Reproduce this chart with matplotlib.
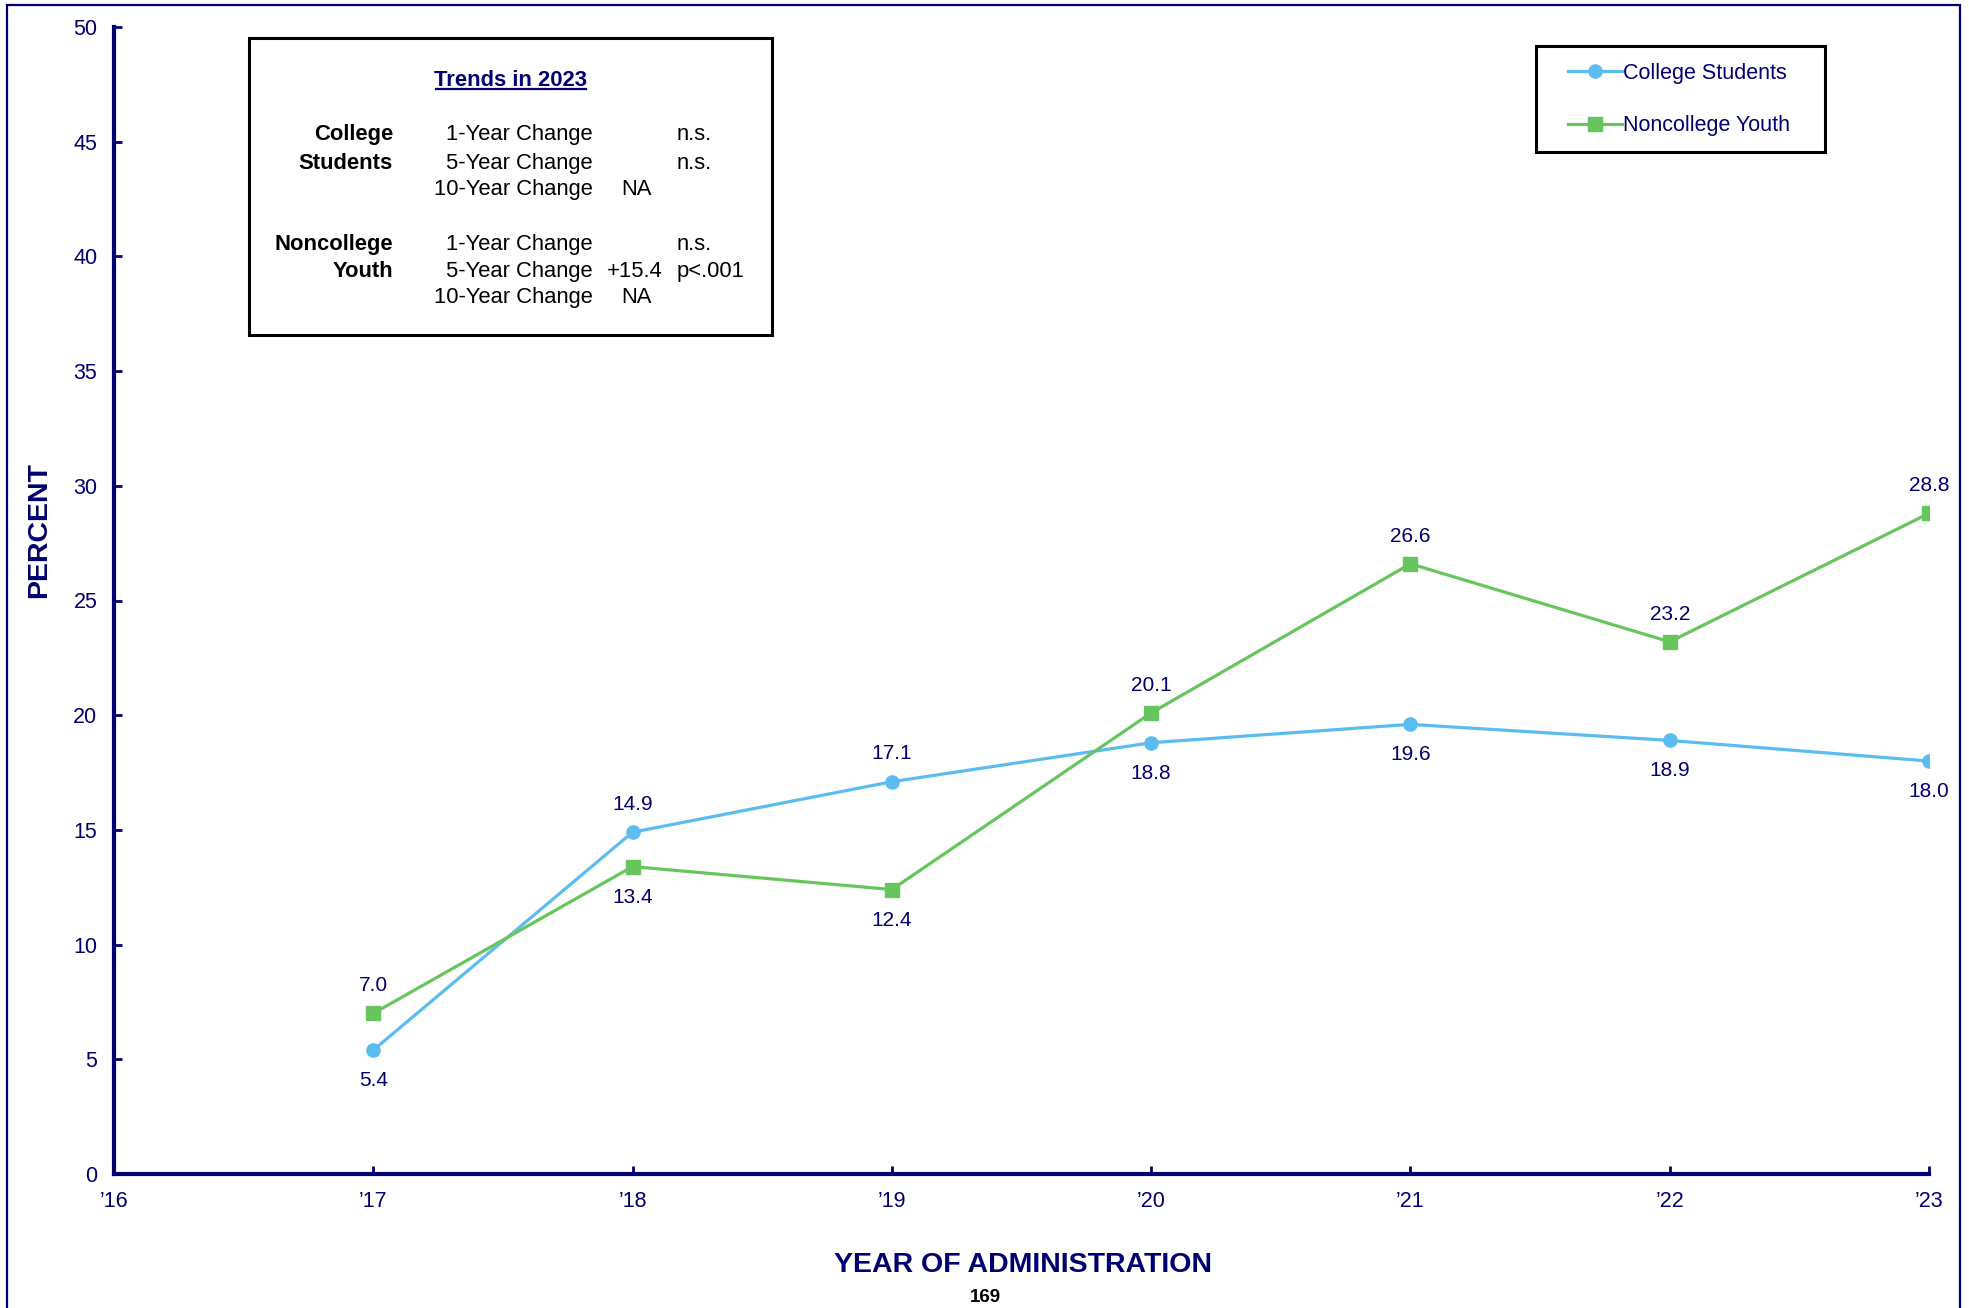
import matplotlib
matplotlib.use("Agg")
import matplotlib.pyplot as plt
from matplotlib.patches import Rectangle

plt.rcParams['font.family'] = ['Liberation Sans', 'DejaVu Sans']

NAVY = '#000070'
BLUE = '#5BBDEF'
GREEN = '#66C55C'

years = [2017, 2018, 2019, 2020, 2021, 2022, 2023]
college = [5.4, 14.9, 17.1, 18.8, 19.6, 18.9, 18.0]
noncollege = [7.0, 13.4, 12.4, 20.1, 26.6, 23.2, 28.8]
college_label_pos = ['below', 'above', 'above', 'below', 'below', 'below', 'below']
noncollege_label_pos = ['above', 'below', 'below', 'above', 'above', 'above', 'above']

xticks = [2016, 2017, 2018, 2019, 2020, 2021, 2022, 2023]
xticklabels = ["\u201916", "\u201917", "\u201918", "\u201919", "\u201920", "\u201921", "\u201922", "\u201923"]
yticks = [0, 5, 10, 15, 20, 25, 30, 35, 40, 45, 50]

W, H = 1969, 1308
fig = plt.figure(figsize=(W / 100, H / 100), dpi=100)
ax = fig.add_axes([114 / W, 1 - 1174 / H, (1929 - 114) / W, (1174 - 27) / H])

ax.plot(years, college, color=BLUE, lw=2.3, marker='o', ms=9.5,
        label='College Students', zorder=3)
ax.plot(years, noncollege, color=GREEN, lw=2.3, marker='s', ms=9.5,
        label='Noncollege Youth', zorder=3)

for xs, ys, pos in [(years, college, college_label_pos),
                    (years, noncollege, noncollege_label_pos)]:
    for x, y, p in zip(xs, ys, pos):
        off = 20 if p == 'above' else -22
        ax.annotate(f"{y:.1f}", (x, y), xytext=(0, off), textcoords='offset points',
                    ha='center', va='center', fontsize=15, color=NAVY)

ax.set_xlim(2016, 2023)
ax.set_ylim(0, 50)
ax.set_xticks(xticks)
ax.set_xticklabels(xticklabels)
ax.set_yticks(yticks)
ax.tick_params(direction='in', length=6, width=2, color=NAVY, labelcolor=NAVY,
               labelsize=15.5)
ax.tick_params(axis='x', pad=12)
ax.tick_params(axis='y', pad=12)
for s in ['top', 'right']:
    ax.spines[s].set_visible(False)
for s in ['left', 'bottom']:
    ax.spines[s].set_color(NAVY)
    ax.spines[s].set_linewidth(3)

# Axis titles and page number
fig.text(1023 / W, 1 - 1265 / H, 'YEAR OF ADMINISTRATION', ha='center', va='center',
         fontsize=20.5, fontweight='bold', color=NAVY)
fig.text(39 / W, 1 - 530 / H, 'PERCENT', ha='center', va='center', rotation=90,
         fontsize=20.5, fontweight='bold', color=NAVY)
fig.text(985 / W, 1 - 1298 / H, '169', ha='center', va='center',
         fontsize=13.5, fontweight='bold', color='black')

# Outer page frame
fig.patches.append(Rectangle((7 / W, -0.05), (1960 - 7) / W, 1.05 - 5 / H,
                             transform=fig.transFigure, fill=False,
                             edgecolor=NAVY, lw=1.6))

# Legend with its own frame
leg = fig.legend(loc='upper left', bbox_to_anchor=(1568 / W, 1 - 63 / H),
                 frameon=False, fontsize=15.5, labelcolor=NAVY,
                 handlelength=2.5, handletextpad=0.05, labelspacing=1.45,
                 borderpad=0, borderaxespad=0)
fig.patches.append(Rectangle((1536 / W, 1 - 152 / H), (1825 - 1536) / W, (152 - 46) / H,
                             transform=fig.transFigure, fill=False,
                             edgecolor='black', lw=2.2, zorder=5))

# Trend significance box
fig.patches.append(Rectangle((249 / W, 1 - 335 / H), (772 - 249) / W, (335 - 38) / H,
                             transform=fig.transFigure, fill=False,
                             edgecolor='black', lw=2.2, zorder=5))
fig.text(511 / W, 1 - 86 / H, 'Trends in 2023', ha='center', va='baseline',
         fontsize=15.8, fontweight='bold', color=NAVY)
fig.add_artist(plt.Line2D([436 / W, 586 / W], [1 - 89 / H, 1 - 89 / H],
                          color=NAVY, lw=1.6))

rows_y = [140, 169, 195, 250, 277, 303]
group_labels = [('College', 140), ('Students', 169), ('Noncollege', 250), ('Youth', 277)]
change_labels = ['1-Year Change', '5-Year Change', '10-Year Change'] * 2
values = ['', '', 'NA', '', '+15.4', 'NA']
signif = ['n.s.', 'n.s.', '', 'n.s.', 'p<.001', '']

for txt, y in group_labels:
    fig.text(393 / W, 1 - y / H, txt, ha='right', va='baseline', fontsize=15.8,
             fontweight='bold', color='black')
for y, c, v, s in zip(rows_y, change_labels, values, signif):
    fig.text(593 / W, 1 - y / H, c, ha='right', va='baseline', fontsize=15.8, color='black')
    if v == 'NA':
        fig.text(636 / W, 1 - y / H, v, ha='center', va='baseline', fontsize=15.8, color='black')
    elif v:
        fig.text(663 / W, 1 - y / H, v, ha='right', va='baseline', fontsize=15.8, color='black')
    if s:
        fig.text(677 / W, 1 - y / H, s, ha='left', va='baseline', fontsize=15.8, color='black')

fig.savefig('out.png', dpi=100)
